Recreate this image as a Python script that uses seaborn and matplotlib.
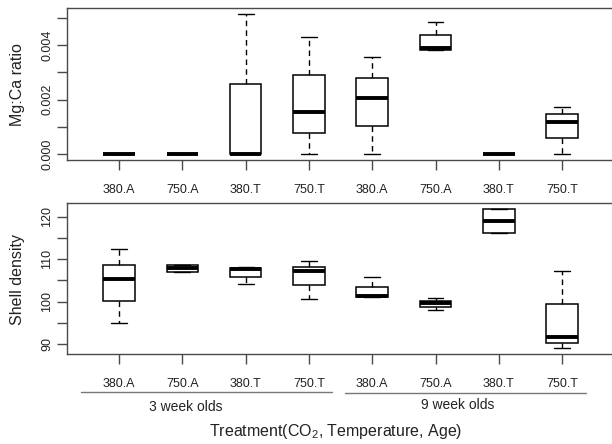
import numpy as np
import pandas as pd
import matplotlib
matplotlib.use("Agg")
import matplotlib.pyplot as plt
import matplotlib.transforms as mtransforms
import seaborn as sns

# ---- data (five-number summaries: min, q1, median, q3, max) ----
group_ids = ["3w 380.A", "3w 750.A", "3w 380.T", "3w 750.T",
             "9w 380.A", "9w 750.A", "9w 380.T", "9w 750.T"]
tick_labels = ["380.A", "750.A", "380.T", "750.T", "380.A", "750.A", "380.T", "750.T"]

mgca_min = [0.0, 0.0, 0.0, 0.0, 0.0, 0.00382, 0.0, 0.0]
mgca_q1 = [0.0, 0.0, 0.0, 0.00077, 0.00102, 0.00382, 0.0, 0.00059]
mgca_med = [0.0, 0.0, 0.0, 0.00155, 0.00206, 0.00388, 0.0, 0.00118]
mgca_q3 = [0.0, 0.0, 0.00256, 0.00291, 0.00280, 0.00438, 0.0, 0.00146]
mgca_max = [0.0, 0.0, 0.00512, 0.00428, 0.00355, 0.00485, 0.0, 0.00174]

dens_min = [94.9, 106.9, 104.2, 100.6, 101.0, 98.0, 116.2, 88.9]
dens_q1 = [100.1, 106.9, 105.9, 103.8, 101.0, 98.7, 116.2, 90.2]
dens_med = [105.3, 107.9, 107.7, 107.1, 101.3, 99.6, 119.1, 91.5]
dens_q3 = [108.7, 108.7, 108.0, 108.2, 103.4, 100.2, 121.9, 99.5]
dens_max = [112.4, 108.7, 108.1, 109.6, 105.7, 100.8, 121.9, 107.3]

age_groups = ["3 week olds", "9 week olds"]
x_title = "Treatment(CO$_2$, Temperature, Age)"


def long_frame(mins, q1s, meds, q3s, maxs):
    rows = []
    for g, a, b, c, d, e in zip(group_ids, mins, q1s, meds, q3s, maxs):
        for v in (a, b, c, d, e):
            rows.append((g, v))
    return pd.DataFrame(rows, columns=["group", "value"])


df_mg = long_frame(mgca_min, mgca_q1, mgca_med, mgca_q3, mgca_max)
df_dn = long_frame(dens_min, dens_q1, dens_med, dens_q3, dens_max)

sns.set_style("white")
plt.rcParams["font.family"] = ["Liberation Sans", "DejaVu Sans"]
plt.rcParams["mathtext.default"] = "regular"

W, H = 612, 444
fig = plt.figure(figsize=(W / 100, H / 100), dpi=100)


def px_axes(left, top, right, bottom):
    return fig.add_axes([left / W, 1 - bottom / H, (right - left) / W, (bottom - top) / H])


ax1 = px_axes(67, 8.3, 614, 160)
ax2 = px_axes(67, 203.3, 614, 354)

frame_col = "#4a4a4a"
text_col = "#222222"
box_kw = dict(
    x="group", y="value", order=group_ids, width=0.5, whis=(0, 100),
    showfliers=False, color="white", linecolor="black", linewidth=1.1,
    whiskerprops=dict(linestyle=(0, (4, 3)), linewidth=1.0),
    medianprops=dict(linewidth=2.8, color="black"),
    capprops=dict(linewidth=1.0),
)
sns.boxplot(data=df_mg, ax=ax1, **box_kw)
sns.boxplot(data=df_dn, ax=ax2, **box_kw)

for ax in (ax1, ax2):
    ax.set_xlim(-0.822, 7.82)
    ax.set_xlabel("")
    ax.set_ylabel("")
    for s in ax.spines.values():
        s.set_color(frame_col)
        s.set_linewidth(1.0)
    ax.set_xticks(range(len(tick_labels)))
    ax.set_xticklabels(tick_labels, fontsize=9, color=text_col)
    ax.tick_params(axis="x", length=7, width=1, color=frame_col, pad=10,
                   bottom=True, direction="out")
    ax.tick_params(axis="y", length=7, width=1, color=frame_col, pad=3,
                   left=True, direction="out")

ax1.set_ylim(-0.00021, 0.00534)
t1 = [0, 0.001, 0.002, 0.003, 0.004, 0.005]
ax1.set_yticks(t1)
ax1.set_yticklabels(["0.000", "", "0.002", "", "0.004", ""], fontsize=9,
                    rotation=90, va="center", color=text_col)

ax2.set_ylim(87.6, 123.2)
t2 = [90, 95, 100, 105, 110, 115, 120]
ax2.set_yticks(t2)
ax2.set_yticklabels(["90", "", "100", "", "110", "", "120"], fontsize=9,
                    rotation=90, va="center", color=text_col)

fig.text(18 / W, 1 - 85 / H, "Mg:Ca ratio", rotation=90, fontsize=11.5,
         ha="center", va="center", color=text_col)
fig.text(18 / W, 1 - 279 / H, "Shell density", rotation=90, fontsize=11.5,
         ha="center", va="center", color=text_col)

# age-group underlines and labels
trans = mtransforms.blended_transform_factory(ax2.transData, fig.transFigure)
u = 63.29  # px per category unit


def dx(px):
    return (px - 119) / u


for (x0, x1, y), label, tx, ty in [
    ((81, 332, 392), age_groups[0], 186, 407),
    ((345, 586, 393), age_groups[1], 458, 405),
]:
    ax2.plot([dx(x0), dx(x1)], [1 - y / H, 1 - y / H], transform=trans,
             color="#777777", lw=1.0, clip_on=False)
    fig.text(tx / W, 1 - ty / H, label, fontsize=10, ha="center", va="center",
             color=text_col)

fig.text(336 / W, 1 - 431 / H, x_title, fontsize=11.5, ha="center", va="center",
         color=text_col)

fig.savefig("out.png", dpi=100)
